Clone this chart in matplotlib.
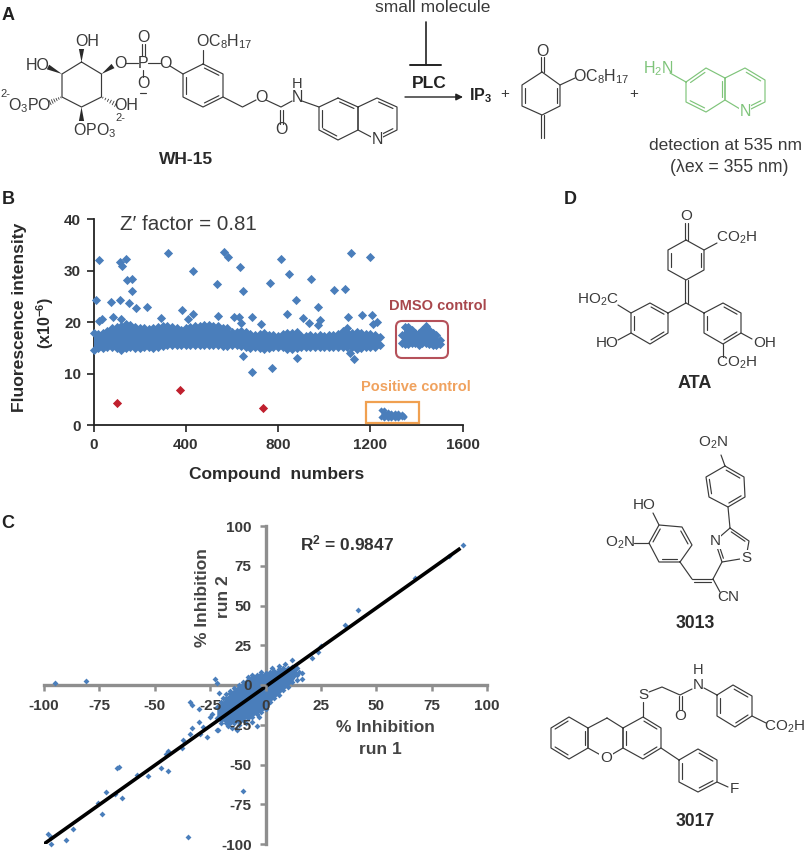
import matplotlib
matplotlib.use("Agg")
import matplotlib.pyplot as plt
from matplotlib.patches import Polygon, Rectangle, FancyBboxPatch

plt.rcParams['font.family'] = ['Liberation Sans', 'DejaVu Sans']
plt.rcParams['mathtext.fontset'] = 'custom'
plt.rcParams['mathtext.rm'] = 'Liberation Sans'
plt.rcParams['mathtext.it'] = 'Liberation Sans'
plt.rcParams['mathtext.bf'] = 'Liberation Sans:bold'
plt.rcParams['mathtext.default'] = 'regular'
plt.rcParams['axes.unicode_minus'] = False

W, H = 805, 852
BLUE = '#4a7ebb'
RED = '#c0202e'
INK = '#3a3a3a'
GREEN = '#7fc47a'

# ---- Panel B data ----
out_x = [10,23,23,35,78,85,117,123,143,146,169,166,117,153,184,234,121,293,321,384,431,433,410,535,540,565,585,637,650,608,629,641,685,646,689,724,767,772,812,847,838,878,884,906,942,935,971,981,974,1043,1091,1104,1114,1111,1129,1165,1199,1209,1230,1212]
out_y = [24.3,32.1,20.3,20.6,23.9,21.1,31.7,30.9,32.2,28.3,28.5,26.0,24.3,23.7,22.8,22.9,20.6,20.8,33.4,22.3,30.0,21.6,20.6,27.4,21.3,33.7,32.6,30.7,26.1,21.1,21.1,19.9,21.1,13.5,10.3,19.7,27.7,11.1,32.2,29.3,21.7,24.3,13.0,20.8,28.5,19.8,23.0,20.5,19.4,26.3,26.5,21.0,33.5,14.0,12.8,21.4,32.6,21.4,20.0,19.6]
hit_x = [103,374,735]
hit_y = [4.3,6.8,3.4]
band_x = [0,20,40,60,80,100,120,140,160,180,200,220,240,260,280,300,320,340,360,380,400,420,440,460,480,500,520,540,560,580,600,620,640,660,680,700,720,740,760,780,800,820,840,860,880,900,920,940,960,980,1000,1020,1040,1060,1080,1100,1120,1140,1160,1180,1200,1220,1240]
band_hi = [18.0,17.8,18.0,18.3,18.8,19.0,19.2,19.6,19.4,19.0,18.8,18.8,18.7,18.8,19.0,19.2,19.2,19.0,18.8,18.6,18.8,19.0,19.2,19.2,19.4,19.4,19.2,19.2,18.8,18.8,18.2,18.2,18.4,18.2,17.8,17.6,17.8,18.0,17.6,17.6,17.4,17.8,18.0,18.0,18.2,17.4,17.4,17.6,17.4,17.6,17.4,17.6,17.6,17.8,18.4,18.8,18.0,18.2,18.0,17.8,17.8,17.6,17.2]
band_lo = [14.6,15.0,15.0,15.2,15.2,15.0,14.6,15.0,15.2,15.0,15.0,15.2,15.2,15.0,15.2,15.4,15.6,15.5,15.5,15.6,15.6,15.5,15.6,15.5,15.6,15.6,15.5,15.6,15.4,15.4,15.6,15.5,15.4,15.2,15.0,15.2,15.0,14.8,15.0,15.2,15.2,15.2,14.9,14.8,15.0,15.2,15.2,15.2,15.3,15.3,15.3,15.3,15.2,15.3,15.3,15.2,15.2,14.8,15.0,15.2,15.3,15.3,15.6]
dmso_x = [1335,1350,1365,1380,1395,1410,1425,1440,1455,1470,1485,1500]
dmso_hi = [17.5,19.0,19.0,18.5,18.0,18.0,18.5,19.3,18.5,18.0,17.5,16.5]
dmso_lo = [16.0,15.8,15.8,15.9,16.0,15.6,16.0,16.0,15.8,15.6,15.5,15.8]
pos_x = [1245,1260,1275,1290,1305,1320,1335,1345]
pos_hi = [2.9,3.0,2.6,2.4,2.3,2.3,2.1,1.9]
pos_lo = [1.6,1.5,1.5,1.5,1.5,1.5,1.6,1.7]
b_xticks = [0,400,800,1200,1600]
b_yticks = [0,10,20,30,40]

# ---- Panel C data ----
c_x = [-95,-81,-23,-22,89,83,67.7,41.8,35.8,25,23.8,20.8,12,16.7,16.7,-33.9,-33.3,-30,-30,-33.3,-33.9,-29.6,-26.2,-28,-21.4,-22,-37.2,-37.5,-44,-45,-44.2,-47,-66,-67,-58,-53,-72,-68,-65,-75.8,-74,-87,-98,-97,-90,-97,-35,-10,-4,-21,-18,
       -24,-19,-16,-15,-12,-9,-6,-3,-14,-11,-8,-5,-2,3,6,9,13,15,14,-17,-13,-20,-25]
c_y = [1.5,2.7,3.6,1,88,81,67.6,46.9,37.7,24.7,21,16.7,15.7,7.7,3.6,-11,-12.3,-15.3,-23,-27,-30.8,-30.8,-32.4,-26.6,-28.2,-28.2,-34.5,-39.7,-41.2,-43.5,-54.4,-52.3,-51.3,-52.3,-56.5,-57,-67.4,-68.4,-71.3,-74.5,-81.4,-90.4,-94,-95.4,-97.5,-100,-95.4,-66.5,-25.7,-5,-5.6,
       -18,-8,-4,-27,-25,-24,-23,-20,-6,-2,1,5,8,11,12,13,9,8,3,-26,-28,-24,-20]
blob_x = [-22,-20,-18,-16,-14,-12,-10,-8,-6,-4,-2,0,2,4,6,8,10,12,14]
blob_hi = [-14,-11,-8,-5,-2,0,2,5,6,6.5,7,7.5,8,9,10,10.5,11,11.5,11]
blob_lo = [-21,-22,-24,-24,-24,-23,-22,-21,-20,-18,-17,-15,-11,-8,-6,-3,-1,2,6]
fit_x = [-100,88]
fit_y = [-100,86]
c_ticks = [-100,-75,-50,-25,0,25,50,75,100]

# ---- Figure ----
fig = plt.figure(figsize=(W/100, H/100), dpi=100, facecolor='white')

def axes_px(x0, y0, x1, y1, **kw):
    return fig.add_axes([x0/W, 1-y1/H, (x1-x0)/W, (y1-y0)/H], **kw)

ov = fig.add_axes([0,0,1,1], zorder=5)
ov.set_xlim(0,W); ov.set_ylim(H,0); ov.axis('off'); ov.patch.set_alpha(0)

# ---- Panel B ----
axb = axes_px(93.5, 219.3, 462.7, 425.3, zorder=2)
axb.patch.set_alpha(0)
axb.fill_between(band_x, band_lo, band_hi, color=BLUE, lw=0, zorder=3)
axb.fill_between(dmso_x, dmso_lo, dmso_hi, color=BLUE, lw=0, zorder=3)
axb.fill_between(pos_x, pos_lo, pos_hi, color=BLUE, lw=0, zorder=3)
for xs, ys, s in [(band_x,band_hi,22),(band_x,band_lo,22),(dmso_x,dmso_hi,22),(dmso_x,dmso_lo,22),(pos_x,pos_hi,10),(pos_x,pos_lo,10),(out_x,out_y,22)]:
    axb.scatter(xs, ys, marker='D', s=s, color=BLUE, lw=0, zorder=3, clip_on=False)
axb.scatter(hit_x, hit_y, marker='D', s=22, color=RED, lw=0, zorder=4, clip_on=False)
axb.set_xlim(0,1600); axb.set_ylim(0,40)
axb.set_xticks(b_xticks); axb.set_yticks(b_yticks)
for s in ['top','right']:
    axb.spines[s].set_visible(False)
for s in ['left','bottom']:
    axb.spines[s].set_linewidth(1.3); axb.spines[s].set_color('#222222')
axb.tick_params(length=5, width=1.2, color='#222222', labelsize=11, pad=4, labelcolor='#333333')
for t in axb.get_xticklabels()+axb.get_yticklabels():
    t.set_fontweight('bold')

# ---- Panel C ----
axc = axes_px(44, 526, 487, 844, zorder=3)
axc.patch.set_alpha(0)
axc.fill_between(blob_x, blob_lo, blob_hi, color=BLUE, lw=0, zorder=3)
axc.scatter(blob_x+blob_x, blob_hi+blob_lo, marker='D', s=9, color=BLUE, lw=0, zorder=3)
axc.scatter(c_x, c_y, marker='D', s=9, color=BLUE, lw=0, zorder=3, clip_on=False)
axc.plot(fit_x, fit_y, color='black', lw=2.6, zorder=4, solid_capstyle='butt')
axc.set_xlim(-100,100); axc.set_ylim(-100,100)
axc.set_xticks(c_ticks); axc.set_yticks(c_ticks)
for s in ['top','right']:
    axc.spines[s].set_visible(False)
for s in ['left','bottom']:
    axc.spines[s].set_position('zero'); axc.spines[s].set_linewidth(2.4)
    axc.spines[s].set_color('#8e8e8e'); axc.spines[s].set_zorder(1)
axc.xaxis.set_zorder(5); axc.yaxis.set_zorder(5)
axc.tick_params(length=4, width=1.8, color='#8e8e8e', labelsize=11, labelcolor='#3a3a3a', pad=6)
for t in axc.get_xticklabels()+axc.get_yticklabels():
    t.set_fontweight('bold')

# ---- Helpers for overlay ----
def T(x, y, s, size=11.5, w='normal', c=INK, ha='center', va='center', mask=False, rot=0, **kw):
    bb = dict(fc='white', ec='none', pad=0.4) if mask else None
    ov.text(x, y, s, fontsize=size, fontweight=w, color=c, ha=ha, va=va, bbox=bb, rotation=rot, zorder=6, **kw)

def L(pts, c=INK, lw=0.85):
    xs = [p[0] for p in pts]; ys = [p[1] for p in pts]
    ov.plot(xs, ys, color=c, lw=lw, zorder=4, solid_capstyle='round')

def dbl(a, b, c=INK, off=2.5, center=None):
    dx, dy = b[0]-a[0], b[1]-a[1]
    n = (dx*dx+dy*dy)**0.5
    nx, ny = -dy/n*off, dx/n*off
    if center is not None:
        mx, my = (a[0]+b[0])/2, (a[1]+b[1])/2
        if (center[0]-mx)*nx+(center[1]-my)*ny < 0:
            nx, ny = -nx, -ny
    sh = 0.14
    L([(a[0]+dx*sh+nx, a[1]+dy*sh+ny), (b[0]-dx*sh+nx, b[1]-dy*sh+ny)], c=c)

def ring(v, dbls=(), c=INK):
    L(list(v)+[v[0]], c=c)
    cx = sum(p[0] for p in v)/len(v); cy = sum(p[1] for p in v)/len(v)
    for i in dbls:
        dbl(v[i], v[(i+1) % len(v)], c=c, off=3, center=(cx, cy))

def wedge(a, b, w=2.6):
    dx, dy = b[0]-a[0], b[1]-a[1]
    n = (dx*dx+dy*dy)**0.5
    nx, ny = -dy/n*w, dx/n*w
    ov.add_patch(Polygon([a, (b[0]+nx, b[1]+ny), (b[0]-nx, b[1]-ny)], fc='#2a2a2a', ec='none', zorder=4))

def hashb(a, b, k=6):
    for i in range(k):
        t = (i+0.5)/k
        x, y = a[0]+(b[0]-a[0])*t, a[1]+(b[1]-a[1])*t
        dx, dy = b[0]-a[0], b[1]-a[1]
        n = (dx*dx+dy*dy)**0.5
        h = 0.4+2.2*t
        L([(x-dy/n*h, y+dx/n*h), (x+dy/n*h, y-dx/n*h)], lw=0.6)

# ---- Panel letters ----
T(8,15,'A',13,'bold','#222222'); T(8,200,'B',13,'bold','#222222')
T(8,523,'C',13,'bold','#222222'); T(570,200,'D',13,'bold','#222222')

# ---- Panel A: WH-15 ----
R1 = [(81.5,62),(101.5,74),(101.5,97),(81.5,107),(62,97),(62,74)]
L(R1+[R1[0]])
wedge((81.5,62),(81.5,49)); T(87,42,'OH')
wedge((62,74),(48,67)); T(38,65,'HO')
wedge((101.5,74),(113,66)); T(120,63,'O')
hashb((101.5,97),(117,105)); T(126,106,'OH')
hashb((62,97),(49,103))
T(5,94,'2-',8); T(30,106,r'O$_3$PO')
wedge((81.5,107),(81.5,121)); T(95,131,r'OPO$_3$'); T(120,118,'2-',8)
L([(125,63),(138,63)]); T(143,63,'P'); L([(148,63),(160,63)]); T(165,63,'O')
L([(141.5,56),(141.5,44)]); L([(144.5,56),(144.5,44)]); T(143,38,'O')
L([(143,70),(143,77)]); T(143,83,'O'); L([(140,93),(146,93)])
L([(170,66),(183,74)])
R2 = [(203,64),(223,74),(223,97),(203,107),(183,97),(183,74)]
ring(R2,[0,2,4])
L([(203,64),(203,50)]); T(224,42,r'OC$_8$H$_{17}$')
L([(223,97),(242.5,107),(256,100)]); T(261,98,'O')
L([(266,100),(281,107),(292,101)]); T(297,98,'N'); T(297,84,'H',10.5)
L([(279.5,110),(279.5,124)]); L([(282.5,110),(282.5,124)]); T(281,130,'O')
L([(302,101),(319,107)])
Q1 = [(338,98),(358,107),(358,130),(338,140),(319,130),(319,107)]
Q2 = [(358,107),(377,98),(397,107),(397,130),(377,140),(358,130)]
ring(Q1,[0,3,4]); ring(Q2,[1,3])
T(377,140,'N',mask=True)
T(186,159,'WH-15',12.5,'bold','#2a2a2a')

# small molecule / PLC
T(433,7,'small molecule',12.5)
L([(426,22),(426,65)],c='#222222',lw=1.2); L([(410,65),(441,65)],c='#222222',lw=1.4)
T(429,83,'PLC',12.5,'bold','#222222')
ov.annotate('',xy=(463,97),xytext=(405,97),arrowprops=dict(arrowstyle='-|>',color='#222222',lw=1.0,shrinkA=0,shrinkB=0))
T(481,96,r'$\mathbf{IP_3}$',11.5,c='#222222'); T(505,94,'+',11)
Q3 = [(542,72),(560,85),(560,106),(542,115),(522,106),(522,85)]
L(Q3+[Q3[0]]); dbl(Q3[1],Q3[2],center=(541,95),off=3); dbl(Q3[4],Q3[5],center=(541,95),off=3)
L([(540.5,72),(540.5,57)]); L([(543.5,72),(543.5,57)]); T(542,51,'O')
L([(560,85),(575,78)]); T(601,77,r'OC$_8$H$_{17}$')
L([(540.5,115),(540.5,138)]); L([(543.5,115),(543.5,138)])
T(634,94,'+',11)
# green amine
G1 = [(686,82),(706,68),(725,78),(725,100),(706,112),(686,102)]
G2 = [(725,78),(745,68),(765,80),(765,102),(745,112),(725,100)]
ring(G1,[0,2,4],c=GREEN); ring(G2,[1,3],c=GREEN)
L([(686,82),(670,73)],c=GREEN)
T(658,69,r'H$_2$N',c=GREEN); T(745,112,'N',c=GREEN,mask=True)
T(725,146,'detection at 535 nm',12.5); T(729,168,'(λex = 355 nm)',12.7)

# ---- Panel B annotations ----
T(188,225,"Z′ factor = 0.81",14.8,c='#3a3a3a')
T(20,317,'Fluorescence intensity',12.6,'bold','#2a2a2a',rot=90)
T(45,323,r'(x10$^{-6}$)',11.5,'bold','#2a2a2a',rot=90)
T(277,474,'Compound  numbers',12.5,'bold','#2a2a2a')
T(438,306,'DMSO control',10.5,'bold','#a8474c')
T(416,387,'Positive control',10.5,'bold','#f0a25e')
ov.add_patch(FancyBboxPatch((399,324),46,31,boxstyle='round,pad=3,rounding_size=6',fc='none',ec='#b5515a',lw=1.5,zorder=4))
ov.add_patch(Rectangle((366,402),53,21,fc='none',ec='#f0a050',lw=1.6,zorder=4))

# ---- Panel C annotations ----
T(347,543,r'R$^{2}$ = 0.9847',12.5,'bold','#333333')
T(385,728,'% Inhibition',12.5,'bold','#444444'); T(380,749,'run 1',12.5,'bold','#444444')
T(202,598,'% Inhibition',12.5,'bold','#444444',rot=90); T(223,597,'run 2',12.5,'bold','#444444',rot=90)

# ---- Panel D: ATA ----
A1 = [(686,240),(704,250),(704,270),(686,280),(668,270),(668,250)]
L(A1+[A1[0]]); dbl(A1[1],A1[2],center=(686,260),off=3); dbl(A1[4],A1[5],center=(686,260),off=3)
L([(684.5,240),(684.5,223)]); L([(687.5,240),(687.5,223)]); T(686,216,'O',11)
L([(704,250),(717,243)]); T(737,238,r'CO$_2$H',11)
L([(684.5,280),(684.5,303)]); L([(687.5,280),(687.5,303)])
L([(686,303),(668,313)]); L([(686,303),(704,313)])
A2 = [(668,313),(668,333),(650,344),(631,333),(631,313),(650,303)]
A3 = [(704,313),(723,303),(741,313),(741,333),(723,344),(704,333)]
ring(A2,[1,3,5]); ring(A3,[1,3,5])
L([(631,313),(618,305)]); T(598,300,r'HO$_2$C',11)
L([(631,333),(618,340)]); T(607,343,'HO',11)
L([(741,333),(752,339)]); T(765,343,'OH',11)
L([(723,344),(723,357)]); T(737,363,r'CO$_2$H',11)
T(695,383,'ATA',13,'bold','#2a2a2a')

# ---- Panel D: 3013 ----
B1 = [(725,466),(744,477),(745,497),(728,507),(709,497),(706,477)]
ring(B1,[0,2,4])
L([(725,466),(721,455)]); T(713,443,r'O$_2$N',11)
L([(728,507),(730,528)])
TH = [(730,528),(749,541),(746,558),(722,562),(715,541)]
L(TH+[TH[0]]); dbl(TH[0],TH[1],center=(733,546),off=2.5); dbl(TH[3],TH[4],center=(733,546),off=2.5)
T(715,541,'N',11,mask=True); T(746,558,'S',11,mask=True)
L([(722,562),(713,579)])
L([(713,579),(692,579)]); L([(711,582),(694,582)])
L([(692,579),(680,562)]); L([(713,579),(720,592)]); T(728,597,'CN',11)
B2 = [(680,562),(692,545),(682,527),(659,525),(649,543),(659,562)]
ring(B2,[1,3,5])
L([(659,525),(653,513)]); T(644,505,'HO',11)
L([(649,543),(634,543)]); T(620,543,r'O$_2$N',11)
T(695,624,'3013',12.7,'bold','#2a2a2a')

# ---- Panel D: 3017 ----
X1 = [(588,728),(569,717),(551,728),(551,748),(569,759),(588,748)]
X2 = [(607,718),(623,728),(623,748),(606,758),(588,748),(588,728)]
X3 = [(623,728),(643,717),(661,728),(661,748),(643,759),(623,748)]
ring(X1,[1,3,5]); L(X2+[X2[0]]); ring(X3,[1,3,5])
T(606,758,'O',11,mask=True)
L([(643,717),(643,702)]); T(643,695,'S',11)
L([(649,692),(662,687),(680,695),(692,689)])
L([(678.5,696),(678.5,710)]); L([(681.5,696),(681.5,710)]); T(680,716,'O',11)
T(698,685,'N',11); T(698,670,'H',10.5)
L([(704,688),(717,695)])
N1 = [(717,695),(733,685),(752,696),(752,716),(735,727),(717,716)]
ring(N1,[1,3,5])
L([(752,716),(766,723)]); T(785,727,r'CO$_2$H',11)
L([(661,748),(679,760)])
F1 = [(679,760),(698,749),(717,760),(717,782),(698,792),(679,782)]
ring(F1,[1,3,5])
L([(717,782),(728,787)]); T(734,789,'F',11)
T(695,822,'3017',12.7,'bold','#2a2a2a')

fig.savefig('out.png', dpi=100, facecolor='white')
